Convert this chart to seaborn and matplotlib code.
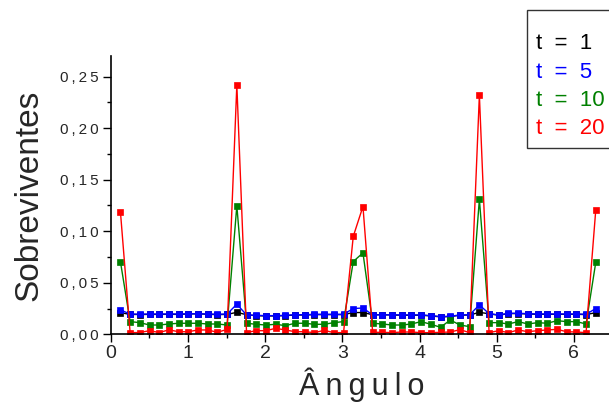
import numpy as np
import pandas as pd
import seaborn as sns
import matplotlib.pyplot as plt
from matplotlib.ticker import MultipleLocator, FuncFormatter
from matplotlib.lines import Line2D

# angle index k = 1..50, step 2*pi/50
k = np.arange(1, 51)
angulo = k * 2 * np.pi / 50

t1 = [0.0210, 0.0193, 0.0192, 0.0193, 0.0193, 0.0194, 0.0193, 0.0197, 0.0199, 0.0194, 0.0191, 0.0193,
      0.0213, 0.0190, 0.0180, 0.0178, 0.0178, 0.0181, 0.0187, 0.0187, 0.0191, 0.0191, 0.0191, 0.0191,
      0.0211, 0.0211, 0.0190, 0.0190, 0.0187, 0.0185, 0.0185, 0.0185, 0.0178, 0.0169, 0.0172, 0.0185,
      0.0187, 0.0213, 0.0199, 0.0185, 0.0201, 0.0201, 0.0197, 0.0194, 0.0194, 0.0194, 0.0194, 0.0194,
      0.0191, 0.0210]
t5 = [0.0236, 0.0197, 0.0195, 0.0197, 0.0197, 0.0197, 0.0197, 0.0199, 0.0199, 0.0197, 0.0194, 0.0197,
      0.0292, 0.0188, 0.0184, 0.0181, 0.0181, 0.0184, 0.0190, 0.0190, 0.0194, 0.0194, 0.0194, 0.0194,
      0.0250, 0.0255, 0.0188, 0.0188, 0.0190, 0.0188, 0.0188, 0.0188, 0.0181, 0.0172, 0.0175, 0.0188,
      0.0190, 0.0285, 0.0200, 0.0188, 0.0204, 0.0204, 0.0200, 0.0197, 0.0197, 0.0197, 0.0197, 0.0197,
      0.0194, 0.0250]
t10 = [0.0706, 0.0123, 0.0113, 0.0090, 0.0090, 0.0100, 0.0107, 0.0107, 0.0107, 0.0100, 0.0100, 0.0090,
       0.1248, 0.0107, 0.0097, 0.0090, 0.0097, 0.0084, 0.0107, 0.0107, 0.0097, 0.0097, 0.0113, 0.0123,
       0.0706, 0.0790, 0.0107, 0.0100, 0.0090, 0.0090, 0.0100, 0.0123, 0.0097, 0.0068, 0.0139, 0.0090,
       0.0074, 0.1310, 0.0113, 0.0113, 0.0100, 0.0123, 0.0100, 0.0113, 0.0107, 0.0132, 0.0123, 0.0123,
       0.0100, 0.0700]
t20 = [0.1190, 0.0016, 0.0017, 0.0035, 0.0017, 0.0043, 0.0025, 0.0025, 0.0042, 0.0042, 0.0019, 0.0048,
       0.2420, 0.0017, 0.0035, 0.0035, 0.0058, 0.0042, 0.0025, 0.0025, 0.0016, 0.0038, 0.0016, 0.0016,
       0.0950, 0.1240, 0.0019, 0.0019, 0.0016, 0.0022, 0.0022, 0.0016, 0.0016, 0.0019, 0.0022, 0.0045,
       0.0016, 0.2320, 0.0016, 0.0035, 0.0016, 0.0042, 0.0025, 0.0035, 0.0042, 0.0048, 0.0025, 0.0022,
       0.0016, 0.1210]

labels = ['t  =  1', 't  =  5', 't  =  10', 't  =  20']
cores = ['#000000', '#0000ff', '#008000', '#ff0000']

df = pd.concat([
    pd.DataFrame({'Angulo': angulo, 'Sobreviventes': v, 'serie': lab})
    for v, lab in zip([t1, t5, t10, t20], labels)
])

sns.set_style('ticks')
plt.rcParams['font.family'] = ['Liberation Sans', 'DejaVu Sans']

fig = plt.figure(figsize=(6.09, 4.05), dpi=100)
ax = fig.add_axes([0.1818, 0.1746, 0.824, 0.687])

sns.lineplot(data=df, x='Angulo', y='Sobreviventes', hue='serie', hue_order=labels,
             palette=cores, marker='s', markersize=5, markeredgewidth=0.5,
             linewidth=1.0, legend=False, ax=ax)
for ln, c in zip(ax.lines, cores):
    ln.set_markeredgecolor(c)

# espaçamento entre letras como no original
esp = '\u2009'

ax.set_xlim(0, 6.5)
ax.set_ylim(0, 0.27)
ax.xaxis.set_major_locator(MultipleLocator(1))
ax.xaxis.set_minor_locator(MultipleLocator(0.5))
ax.yaxis.set_major_locator(MultipleLocator(0.05))
ax.yaxis.set_minor_locator(MultipleLocator(0.025))
ax.yaxis.set_major_formatter(FuncFormatter(lambda v, p: esp.join(f'{v:.2f}'.replace('.', ','))))
ax.tick_params(axis='both', which='major', direction='out', length=6, width=1, color='black')
ax.tick_params(axis='both', which='minor', direction='out', length=3, width=1, color='black')
ax.tick_params(axis='x', labelsize=14, pad=2)
ax.tick_params(axis='y', labelsize=11, pad=3)
sns.despine(ax=ax)
for s in ['left', 'bottom']:
    ax.spines[s].set_color('black')
    ax.spines[s].set_linewidth(1.2)

ax.set_xlabel(esp.join('Ângulo'), fontsize=22, labelpad=4)
ax.set_ylabel('Sobreviventes', fontsize=24, labelpad=11)

handles = [Line2D([], [], linestyle='none') for _ in labels]
leg = fig.legend(handles, labels, loc='upper left', bbox_to_anchor=(0.865, 0.975),
                 fontsize=16, title=' ', title_fontsize=6, handlelength=0, handletextpad=0,
                 labelspacing=0.33, borderpad=0.4, borderaxespad=0, frameon=True,
                 fancybox=False, edgecolor='black')
leg.get_frame().set_linewidth(1.0)
for txt, c in zip(leg.get_texts(), cores):
    txt.set_color(c)

fig.savefig('out.png', dpi=100)
